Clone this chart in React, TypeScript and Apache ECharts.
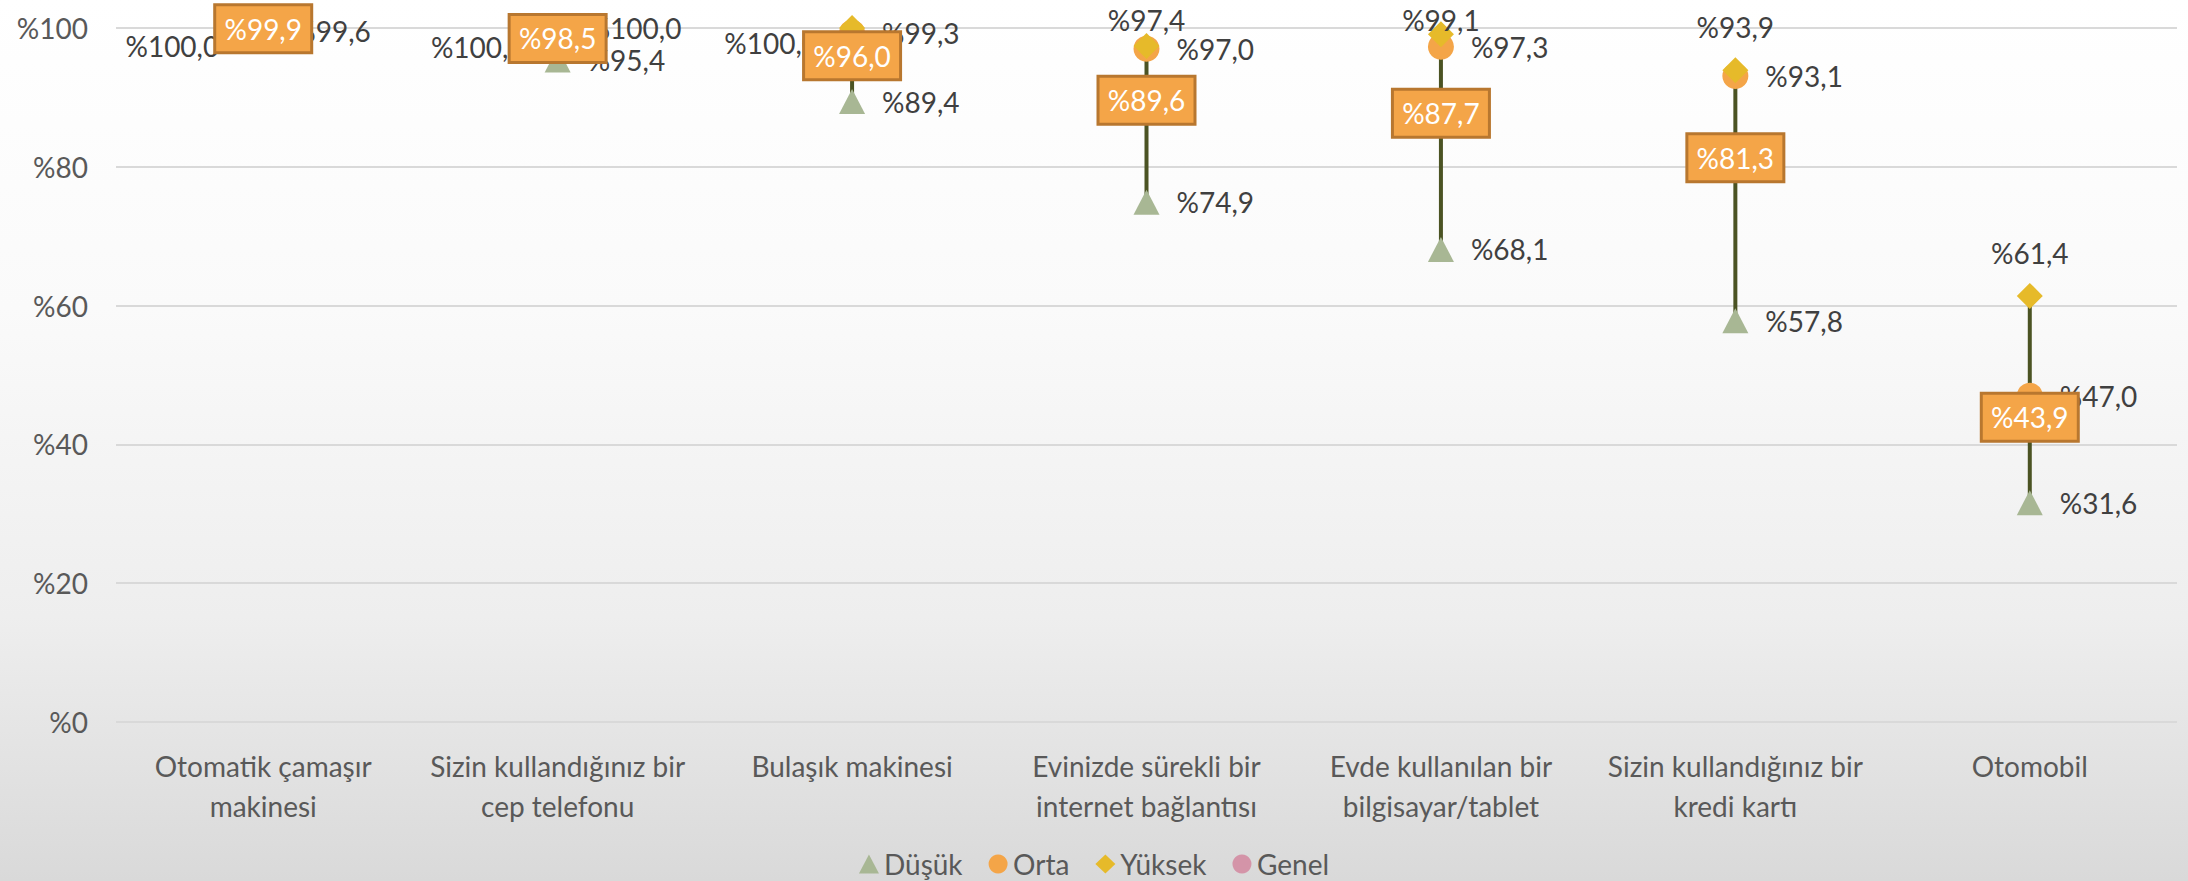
import React, { useEffect, useRef } from "react";
import * as echarts from "echarts";

const categories = [
  "Otomatik çamaşır\nmakinesi",
  "Sizin kullandığınız bir\ncep telefonu",
  "Bulaşık makinesi",
  "Evinizde sürekli bir\ninternet bağlantısı",
  "Evde kullanılan bir\nbilgisayar/tablet",
  "Sizin kullandığınız bir\nkredi kartı",
  "Otomobil",
];
const dusuk = [99.6, 95.4, 89.4, 74.9, 68.1, 57.8, 31.6];
const orta = [100.0, 100.0, 99.3, 97.0, 97.3, 93.1, 47.0];
const yuksek = [100.0, 100.0, 100.0, 97.4, 99.1, 93.9, 61.4];
const genel = [99.9, 98.5, 96.0, 89.6, 87.7, 81.3, 43.9];
const yTicks = [0, 20, 40, 60, 80, 100];

// label placement (style only)
const yuksekPos = ["left", "left", "left", "top", "top", "top", "top"];
const yuksekOffset = [[0, 18], [11, 19], [10, 15], [0, 17], [0, 29], [0, 0], [0, 0]];
const ortaShow = [false, true, true, true, true, true, true];

const FONT = "Lato, 'Noto Sans', sans-serif";
const TXT = "#404040";
const AX = "#595959";

const fmt = (v: number) => "%" + v.toFixed(1).replace(".", ",");

export default function App() {
  const ref = useRef<HTMLDivElement>(null);
  useEffect(() => {
    document.body.style.margin = "0";
    document.body.style.overflow = "hidden";
    const chart = echarts.init(ref.current!, undefined, { renderer: "svg" });
    const range = categories.map((_, i) => {
      const vals = [dusuk[i], orta[i], yuksek[i]];
      return [i, Math.min(...vals), Math.max(...vals)];
    });
    const baseLabel = {
      show: true,
      fontFamily: FONT,
      fontSize: 28,
      color: TXT,
      formatter: (p: any) => fmt(p.value),
    };
    chart.setOption({
      animation: false,
      backgroundColor: new echarts.graphic.LinearGradient(0, 0, 0, 1, [
        { offset: 0, color: "#FFFFFF" },
        { offset: 0.35, color: "#FAFAFA" },
        { offset: 0.7, color: "#EEEEEE" },
        { offset: 1, color: "#D9D9D9" },
      ]),
      textStyle: { fontFamily: FONT },
      grid: { left: 116, right: 11, top: 28, bottom: 159, containLabel: false },
      legend: {
        top: 850,
        left: "center",
        itemWidth: 20,
        itemHeight: 19,
        itemGap: 26,
        padding: 0,
        textStyle: { fontFamily: FONT, fontSize: 28, color: AX },
        data: [
          { name: "Düşük", icon: "triangle" },
          { name: "Orta", icon: "circle" },
          { name: "Yüksek", icon: "diamond" },
          { name: "Genel", icon: "circle" },
        ],
      },
      xAxis: {
        type: "category",
        data: categories,
        boundaryGap: true,
        axisLine: { show: false },
        axisTick: { show: false },
        axisLabel: {
          interval: 0,
          fontFamily: FONT,
          fontSize: 28,
          color: AX,
          lineHeight: 40,
          margin: 24,
        },
      },
      yAxis: {
        type: "value",
        min: 0,
        max: 100,
        interval: 20,
        axisLine: { show: false },
        axisTick: { show: false },
        splitLine: { lineStyle: { color: "#D9D9D9", width: 2 } },
        axisLabel: {
          fontFamily: FONT,
          fontSize: 28,
          color: AX,
          margin: 28,
          formatter: (v: number) => (yTicks.includes(v) ? "%" + v : ""),
        },
      },
      series: [
        {
          type: "custom",
          name: "range",
          z: 1,
          encode: { x: 0, y: [1, 2] },
          data: range,
          renderItem: (params: any, api: any) => {
            const x = api.value(0);
            const p1 = api.coord([x, api.value(1)]);
            const p2 = api.coord([x, api.value(2)]);
            return {
              type: "line",
              shape: { x1: p1[0], y1: p1[1], x2: p2[0], y2: p2[1] },
              style: { stroke: "#4B5323", lineWidth: 4 },
            };
          },
        },
        {
          type: "scatter",
          name: "Düşük",
          z: 2,
          symbol: "triangle",
          symbolSize: [26, 25],
          itemStyle: { color: "#A8B794", opacity: 1 },
          label: { ...baseLabel, position: "right", distance: 17 },
          data: dusuk,
        },
        {
          type: "scatter",
          name: "Orta",
          z: 3,
          symbol: "circle",
          symbolSize: 26,
          itemStyle: { color: "#F4A548", opacity: 1 },
          label: { ...baseLabel, position: "right", distance: 17 },
          data: orta.map((v, i) => ({ value: v, label: { show: ortaShow[i] } })),
        },
        {
          type: "scatter",
          name: "Yüksek",
          z: 4,
          symbol: "diamond",
          symbolSize: 26,
          itemStyle: { color: "#E6BA2A", opacity: 1 },
          label: { ...baseLabel, distance: 16 },
          data: yuksek.map((v, i) => ({
            value: v,
            label: {
              position: yuksekPos[i],
              offset: yuksekOffset[i],
              distance: yuksekPos[i] === "left" ? 31 : 16,
            },
          })),
        },
        {
          type: "scatter",
          name: "Genel",
          z: 10,
          symbol: "circle",
          symbolSize: 16,
          itemStyle: { color: "#D494A8", opacity: 1 },
          label: {
            show: true,
            position: "inside",
            formatter: (p: any) => fmt(p.value),
            fontFamily: FONT,
            fontSize: 28,
            color: "#FFFFFF",
            backgroundColor: "#F4A548",
            borderColor: "#B8772F",
            borderWidth: 3,
            width: 94,
            height: 45,
            lineHeight: 45,
            align: "center",
            verticalAlign: "middle",
          },
          data: genel,
        },
      ],
    });
    return () => chart.dispose();
  }, []);
  return <div ref={ref} style={{ width: 2188, height: 881 }} />;
}
